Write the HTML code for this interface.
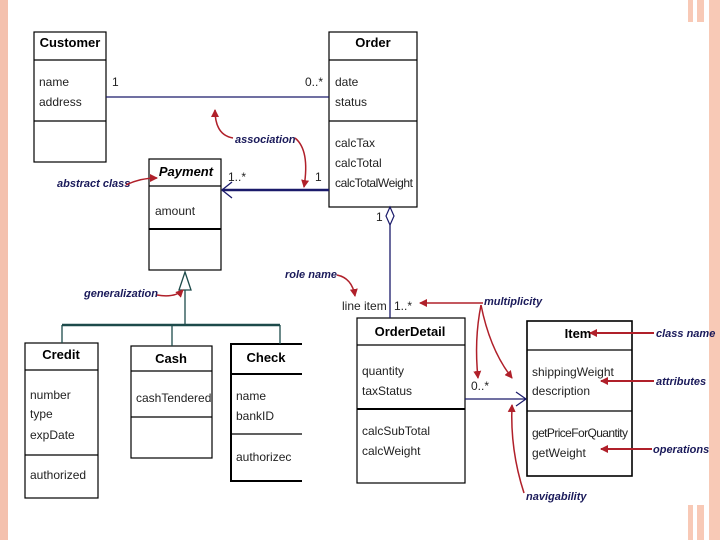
<!DOCTYPE html>
<html><head><meta charset="utf-8"><style>
html,body{margin:0;padding:0;background:#fff;width:720px;height:540px;overflow:hidden}
svg{display:block}
text{font-family:"Liberation Sans",sans-serif}
.c{font-size:13px;font-weight:bold;text-anchor:middle}
.a{font-size:12px;fill:#222}
.n{font-size:11px;font-weight:bold;font-style:italic;fill:#1a1a5a}
.r{stroke:#b0202a;fill:none;stroke-width:1.5}
</style></head><body>
<svg width="720" height="540" viewBox="0 0 720 540">
<defs><marker id="m" markerWidth="8" markerHeight="8" refX="7" refY="4" orient="auto" markerUnits="userSpaceOnUse"><path d="M0,0L8,4L0,8z" fill="#b0202a"/></marker></defs>
<rect x="0" y="0" width="8" height="540" fill="#f4c1ae"/>
<rect x="709" y="0" width="11" height="540" fill="#f8c9b6"/>
<rect x="688" y="0" width="5" height="22" fill="#f8c9b6"/>
<rect x="697" y="0" width="7" height="22" fill="#f8c9b6"/>
<rect x="688" y="505" width="5" height="35" fill="#f8c9b6"/>
<rect x="697" y="505" width="7" height="35" fill="#f8c9b6"/>
<g fill="none" stroke="#000" stroke-width="1.2">
<rect x="34" y="32" width="72" height="130"/><line x1="34" y1="60" x2="106" y2="60"/><line x1="34" y1="121" x2="106" y2="121"/>
<rect x="329" y="32" width="88" height="175"/><line x1="329" y1="60" x2="417" y2="60"/><line x1="329" y1="121" x2="417" y2="121"/>
<rect x="149" y="159" width="72" height="111"/><line x1="149" y1="186" x2="221" y2="186"/><line x1="149" y1="229" x2="221" y2="229" stroke-width="2"/>
<rect x="25" y="343" width="73" height="155"/><line x1="25" y1="370" x2="98" y2="370"/><line x1="25" y1="455" x2="98" y2="455"/>
<rect x="131" y="346" width="81" height="112"/><line x1="131" y1="371" x2="212" y2="371"/><line x1="131" y1="417" x2="212" y2="417"/>
<path d="M302,344H231V481H302" stroke-width="2"/><line x1="231" y1="374" x2="302" y2="374" stroke-width="2"/><line x1="231" y1="434" x2="302" y2="434"/>
<rect x="357" y="318" width="108" height="165"/><line x1="357" y1="345" x2="465" y2="345"/><line x1="357" y1="409" x2="465" y2="409" stroke-width="2"/>
<rect x="527" y="321" width="105" height="155" stroke-width="1.6"/><line x1="527" y1="350" x2="632" y2="350"/><line x1="527" y1="411" x2="632" y2="411"/>
</g>
<g stroke="#1a1a6a" fill="none">
<line x1="106" y1="97" x2="329" y2="97" stroke-width="1.3"/>
<line x1="222" y1="190" x2="329" y2="190" stroke-width="2.5"/>
<path d="M232,182L222,190L232,198" stroke-width="1.3"/>
<path d="M390,207L394,216L390,225L386,216z" stroke-width="1.2"/>
<line x1="390" y1="225" x2="390" y2="318" stroke-width="1.3"/>
<line x1="465" y1="399" x2="526" y2="399" stroke-width="1.3"/>
<path d="M516,392L526,399L516,406" stroke-width="1.2"/>
</g>
<g stroke="#1d4a4a" fill="none" stroke-width="1.3">
<path d="M185,272L191,290H179z" fill="#fff"/>
<line x1="185" y1="290" x2="185" y2="325"/>
<line x1="62" y1="325" x2="280" y2="325" stroke-width="2.5"/>
<line x1="62" y1="325" x2="62" y2="343"/><line x1="172" y1="325" x2="172" y2="346"/><line x1="280" y1="325" x2="280" y2="344"/>
</g>
<text class="c" x="70" y="47">Customer</text>
<text class="a" x="39" y="86">name</text><text class="a" x="39" y="106">address</text>
<text class="c" x="373" y="47">Order</text>
<text class="a" x="335" y="86">date</text><text class="a" x="335" y="106">status</text>
<text class="a" x="335" y="147">calcTax</text><text class="a" x="335" y="167">calcTotal</text><text class="a" x="335" y="187" textLength="78">calcTotalWeight</text>
<text class="c" x="186" y="176" font-style="italic">Payment</text>
<text class="a" x="155" y="215">amount</text>
<text class="c" x="61" y="359">Credit</text>
<text class="a" x="30" y="399">number</text><text class="a" x="30" y="418">type</text><text class="a" x="30" y="439">expDate</text><text class="a" x="30" y="479">authorized</text>
<text class="c" x="171" y="363">Cash</text>
<text class="a" x="136" y="402">cashTendered</text>
<text class="c" x="266" y="362">Check</text>
<text class="a" x="236" y="400">name</text><text class="a" x="236" y="420">bankID</text><text class="a" x="236" y="461">authorizec</text>
<text class="c" x="410" y="336">OrderDetail</text>
<text class="a" x="362" y="375">quantity</text><text class="a" x="362" y="395">taxStatus</text><text class="a" x="362" y="435">calcSubTotal</text><text class="a" x="362" y="455">calcWeight</text>
<text class="c" x="578" y="338">Item</text>
<text class="a" x="532" y="376">shippingWeight</text><text class="a" x="532" y="395">description</text><text class="a" x="532" y="437" textLength="96">getPriceForQuantity</text><text class="a" x="532" y="457">getWeight</text>
<text class="a" x="112" y="86">1</text><text class="a" x="305" y="86">0..*</text>
<text class="a" x="228" y="181">1..*</text><text class="a" x="315" y="181">1</text>
<text class="a" x="376" y="221">1</text>
<text class="a" x="342" y="310">line item</text><text class="a" x="394" y="310">1..*</text>
<text class="a" x="471" y="390">0..*</text>
<text class="n" x="235" y="143">association</text>
<text class="n" x="57" y="187">abstract class</text>
<text class="n" x="84" y="297">generalization</text>
<text class="n" x="285" y="278">role name</text>
<text class="n" x="484" y="305">multiplicity</text>
<text class="n" x="656" y="337">class name</text>
<text class="n" x="656" y="385">attributes</text>
<text class="n" x="653" y="453">operations</text>
<text class="n" x="526" y="500">navigability</text>
<g class="r">
<path d="M233,138Q215,135 215,110" marker-end="url(#m)"/>
<path d="M295,138Q310,150 304,187" marker-end="url(#m)"/>
<path d="M126,185Q140,178 157,178" marker-end="url(#m)"/>
<path d="M157,295Q175,298 183,290" marker-end="url(#m)"/>
<path d="M337,275Q352,278 355,296" marker-end="url(#m)"/>
<path d="M483,303H420" marker-end="url(#m)"/>
<path d="M481,305Q474,340 478,378" marker-end="url(#m)"/>
<path d="M481,305Q490,350 512,378" marker-end="url(#m)"/>
<path d="M654,333H590" marker-end="url(#m)" stroke-width="2"/>
<path d="M654,381H601" marker-end="url(#m)" stroke-width="2"/>
<path d="M652,449H601" marker-end="url(#m)" stroke-width="2"/>
<path d="M524,493Q510,450 512,405" marker-end="url(#m)"/>
</g>
</svg>
</body></html>
